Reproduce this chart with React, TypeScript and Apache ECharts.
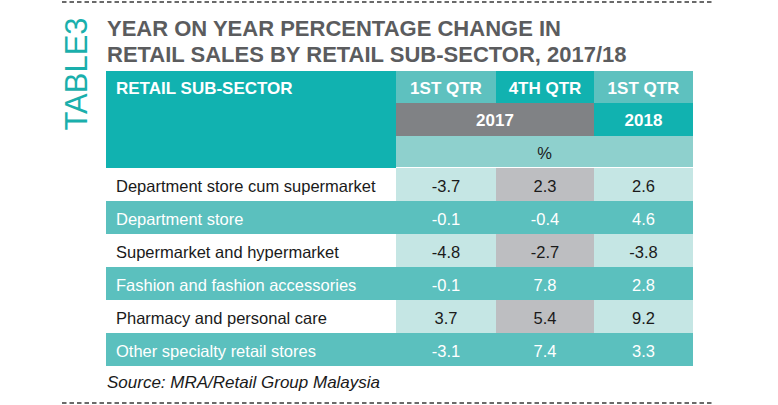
import React, { useEffect, useRef } from "react";
import * as echarts from "echarts";

// ---- data ----
const SECTORS = [
  "Department store cum supermarket",
  "Department store",
  "Supermarket and hypermarket",
  "Fashion and fashion accessories",
  "Pharmacy and personal care",
  "Other specialty retail stores",
];
const Q1_2017 = [-3.7, -0.1, -4.8, -0.1, 3.7, -3.1];
const Q4_2017 = [2.3, -0.4, -2.7, 7.8, 5.4, 7.4];
const Q1_2018 = [2.6, 4.6, -3.8, 2.8, 9.2, 3.3];
const QUARTER_LABELS = ["1ST QTR", "4TH QTR", "1ST QTR"];
const YEAR_LABELS = ["2017", "2018"];
const UNIT_LABEL = "%";
const HEADER_LABEL = "RETAIL SUB-SECTOR";
const TITLE_LINES = [
  "YEAR ON YEAR PERCENTAGE CHANGE IN",
  "RETAIL SALES BY RETAIL SUB-SECTOR, 2017/18",
];
const TABLE_TAG = "TABLE3";
const SOURCE = "Source: MRA/Retail Group Malaysia";

// ---- layout / style ----
const FONT = '"Liberation Sans", Arial, Helvetica, sans-serif';
const LEFT = 106;
const COLS = [0, 290, 390, 488, 587]; // relative column edges
const HEAD_Y = [71, 103, 136, 168];
const BODY_H = 198;
const C = {
  darkTeal: "#11b2b0",
  midTeal: "#5ec1bf",
  gray: "#808285",
  pctRow: "#8ed0cd",
  lightCell: "#c5e6e4",
  grayCell: "#bdbec1",
  tealRow: "#5bc0be",
  title: "#5b5c5e",
  tag: "#1aafac",
};

export default function App() {
  const ref = useRef<HTMLDivElement>(null);

  useEffect(() => {
    if (!ref.current) return;
    const chart = echarts.init(ref.current, null, { renderer: "svg" });

    const columns = [Q1_2017, Q4_2017, Q1_2018];
    const cells: any[] = [];
    SECTORS.forEach((_, r) => {
      cells.push([0, r, 0]);
      columns.forEach((col, ci) => cells.push([ci + 1, r, col[r]]));
    });

    const x = (i: number) => LEFT + COLS[i];
    const graphics: any[] = [];
    const rect = (x0: number, y0: number, w: number, h: number, fill: string) =>
      graphics.push({ type: "rect", shape: { x: x0, y: y0, width: w, height: h }, style: { fill }, silent: true });
    const text = (
      t: string, tx: number, ty: number, size: number, fill: string,
      weight = "normal", align = "center", extra: any = {}
    ) =>
      graphics.push({
        type: "text", x: tx, y: ty, silent: true, ...extra,
        style: {
          text: t, fill, fontSize: size, fontWeight: weight, fontFamily: FONT,
          align, verticalAlign: "middle", textAlign: align, textVerticalAlign: "middle",
          fontStyle: extra.fontStyle || "normal",
        },
      });

    // dashed rules
    [2, 403].forEach((yy) =>
      graphics.push({
        type: "line", silent: true,
        shape: { x1: 62, y1: yy, x2: 712, y2: yy },
        style: { stroke: "#3a3a3a", lineWidth: 1.5, lineDash: [4.5, 3] },
      })
    );
    // tag
    graphics.push({
      type: "text", x: 76, y: 74, rotation: Math.PI / 2, silent: true,
      style: {
        text: TABLE_TAG, fill: C.tag, fontSize: 31, fontFamily: FONT, fontWeight: "normal",
        align: "center", verticalAlign: "middle", textAlign: "center", textVerticalAlign: "middle",
      },
    });
    // title
    text(TITLE_LINES[0], 107, 28, 22, C.title, "bold", "left");
    text(TITLE_LINES[1], 107, 54, 22, C.title, "bold", "left");

    // header
    rect(x(0), HEAD_Y[0], COLS[1], HEAD_Y[3] - HEAD_Y[0], C.darkTeal);
    const qFills = [C.midTeal, C.darkTeal, C.midTeal];
    QUARTER_LABELS.forEach((q, i) => {
      rect(x(i + 1), HEAD_Y[0], COLS[i + 2] - COLS[i + 1], HEAD_Y[1] - HEAD_Y[0], qFills[i]);
      text(q, (x(i + 1) + x(i + 2)) / 2, (HEAD_Y[0] + HEAD_Y[1]) / 2 + 1, 17, "#ffffff", "bold");
    });
    rect(x(1), HEAD_Y[1], COLS[3] - COLS[1], HEAD_Y[2] - HEAD_Y[1], C.gray);
    text(YEAR_LABELS[0], (x(1) + x(3)) / 2, (HEAD_Y[1] + HEAD_Y[2]) / 2 + 1, 17, "#ffffff", "bold");
    rect(x(3), HEAD_Y[1], COLS[4] - COLS[3], HEAD_Y[2] - HEAD_Y[1], C.darkTeal);
    text(YEAR_LABELS[1], (x(3) + x(4)) / 2, (HEAD_Y[1] + HEAD_Y[2]) / 2 + 1, 17, "#ffffff", "bold");
    rect(x(1), HEAD_Y[2], COLS[4] - COLS[1], HEAD_Y[3] - HEAD_Y[2] - 1, C.pctRow);
    text(UNIT_LABEL, (x(1) + x(4)) / 2, (HEAD_Y[2] + HEAD_Y[3]) / 2 + 1, 16.5, "#1a1a1a");
    text(HEADER_LABEL, 116, 88, 17, "#ffffff", "bold", "left");

    // source
    text(SOURCE, 107, 382, 17, "#1a1a1a", "normal", "left", { fontStyle: "italic" });

    const option: any = {
      animation: false,
      backgroundColor: "#ffffff",
      grid: { left: LEFT, top: HEAD_Y[3], width: COLS[4], height: BODY_H, containLabel: false },
      xAxis: { type: "value", min: 0, max: COLS[4], show: false },
      yAxis: { type: "category", data: SECTORS, inverse: true, show: false },
      graphic: graphics,
      series: [
        {
          type: "custom",
          silent: true,
          data: cells,
          encode: { x: 0, y: 1 },
          renderItem: (params: any, api: any) => {
            const c = api.value(0);
            const r = api.value(1);
            const v = api.value(2);
            const center = api.coord([0, r]);
            const bandH = api.size([0, 1])[1];
            const x0 = api.coord([COLS[c], r])[0];
            const x1 = api.coord([COLS[c + 1], r])[0];
            const y0 = center[1] - bandH / 2;
            const even = r % 2 === 1;
            let fill: string;
            if (even) fill = C.tealRow;
            else if (c === 0) fill = "#ffffff";
            else if (c === 2) fill = C.grayCell;
            else fill = C.lightCell;
            const label = c === 0 ? SECTORS[r] : Number(v).toFixed(1);
            return {
              type: "group",
              children: [
                { type: "rect", shape: { x: x0, y: y0, width: x1 - x0, height: bandH }, style: { fill } },
                {
                  type: "text",
                  style: {
                    text: label,
                    x: c === 0 ? x0 + 10 : (x0 + x1) / 2,
                    y: center[1] + 1,
                    fill: even ? "#ffffff" : "#1a1a1a",
                    fontSize: 16.5,
                    fontFamily: FONT,
                    align: c === 0 ? "left" : "center",
                    verticalAlign: "middle",
                    textAlign: c === 0 ? "left" : "center",
                    textVerticalAlign: "middle",
                  },
                },
              ],
            };
          },
        },
      ],
    };
    chart.setOption(option);
    return () => chart.dispose();
  }, []);

  return (
    <div
      ref={ref}
      style={{ position: "fixed", left: 0, top: 0, width: 778, height: 405, background: "#fff" }}
    />
  );
}
